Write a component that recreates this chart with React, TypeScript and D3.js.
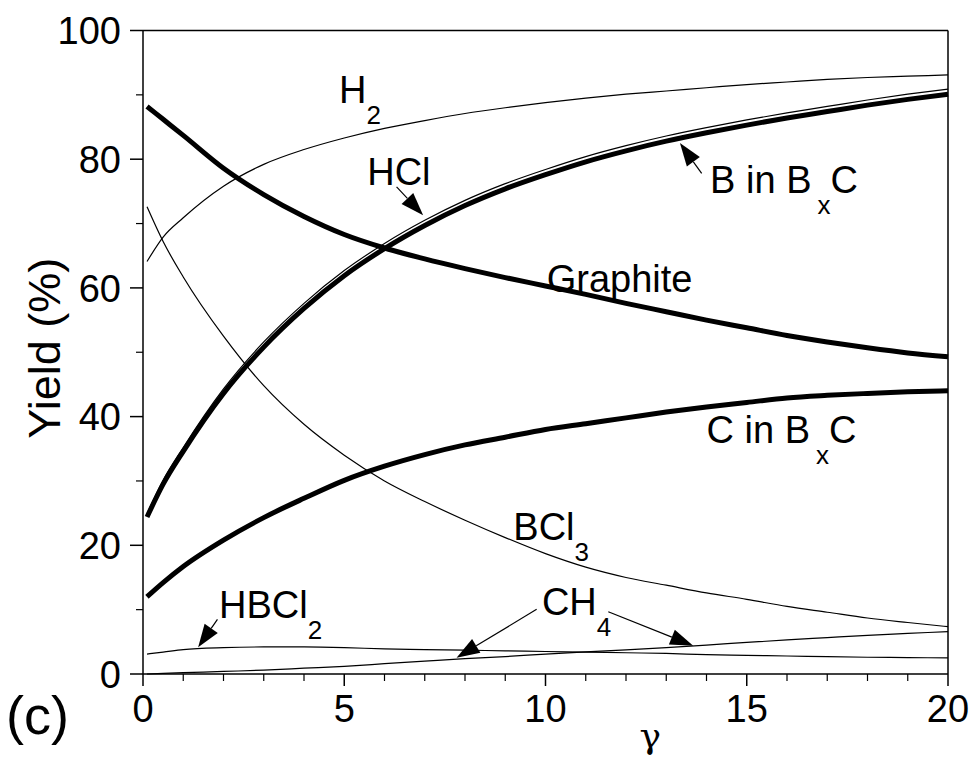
import * as d3 from "d3";

// gamma values (x axis)
const gamma = [0.1, 0.5, 1, 2, 3, 4, 5, 6, 7, 8, 9, 10, 11, 12, 13, 14, 15, 16, 17, 18, 19, 20];

// yields (%)
const graphite = [88.2, 86.2, 83.7, 78.6, 74.5, 71.1, 68.3, 66.2, 64.5, 63.0, 61.6, 60.3, 59.0, 57.6, 56.3, 55.0, 53.8, 52.6, 51.6, 50.7, 49.9, 49.3];
const h2 = [64.1, 67.9, 70.9, 75.8, 79.2, 81.5, 83.3, 84.8, 86.0, 87.1, 88.0, 88.8, 89.5, 90.1, 90.6, 91.1, 91.6, 92.0, 92.4, 92.7, 92.9, 93.1];
const bInBxC = [24.4, 29.5, 34.6, 43.6, 50.8, 56.8, 61.9, 66.1, 69.7, 72.8, 75.4, 77.6, 79.6, 81.3, 82.8, 84.1, 85.3, 86.4, 87.4, 88.4, 89.3, 90.1];
const hcl = [24.9, 30.1, 35.2, 44.3, 51.6, 57.6, 62.7, 66.9, 70.5, 73.6, 76.2, 78.4, 80.4, 82.1, 83.6, 84.9, 86.1, 87.2, 88.2, 89.2, 90.1, 90.9];
const cInBxC = [12.0, 14.2, 16.7, 20.8, 24.3, 27.3, 30.1, 32.3, 34.1, 35.6, 36.8, 38.0, 38.9, 39.8, 40.7, 41.5, 42.2, 42.9, 43.3, 43.6, 43.85, 44.0];
const bcl3 = [72.6, 67.2, 61.7, 52.5, 44.8, 38.8, 34.0, 30.0, 26.8, 23.9, 21.2, 18.7, 16.6, 15.0, 13.8, 12.6, 11.6, 10.5, 9.6, 8.7, 8.0, 7.35];
const hbcl2 = [3.1, 3.4, 3.8, 4.1, 4.2, 4.2, 4.1, 3.9, 3.8, 3.7, 3.6, 3.5, 3.4, 3.3, 3.2, 3.0, 2.9, 2.8, 2.7, 2.6, 2.55, 2.5];
const ch4 = [0.0, 0.1, 0.2, 0.4, 0.6, 0.9, 1.2, 1.6, 2.0, 2.4, 2.7, 3.1, 3.45, 3.75, 4.1, 4.5, 4.9, 5.3, 5.65, 6.0, 6.3, 6.6];

const xMajor = [0, 5, 10, 15, 20];
const yMajor = [0, 20, 40, 60, 80, 100];

const W = 976;
const H = 773;
const margin = { left: 143, right: 28, top: 30.5, bottom: 99 };
const FONT = "'Liberation Sans', Arial, sans-serif";

const x = d3.scaleLinear().domain([0, 20]).range([margin.left, W - margin.right]);
const y = d3.scaleLinear().domain([0, 100]).range([H - margin.bottom, margin.top]);

const line = d3
  .line<number>()
  .x((_, i) => x(gamma[i]))
  .y((d) => y(d))
  .curve(d3.curveMonotoneX);

const series = [
  { name: "H2", values: h2, w: 1.2 },
  { name: "BCl3", values: bcl3, w: 1.2 },
  { name: "HBCl2", values: hbcl2, w: 1.2 },
  { name: "CH4", values: ch4, w: 1.2 },
  { name: "Graphite", values: graphite, w: 5 },
  { name: "C in BxC", values: cInBxC, w: 5 },
  { name: "B in BxC", values: bInBxC, w: 5 },
  { name: "HCl", values: hcl, w: 1.2 },
];

// labels: [gamma, yield] of text start / baseline
type Label = { g: number; v: number; main: string; sub?: string; tail?: string; subDx?: number };
const labels: Label[] = [
  { g: 4.87, v: 88.7, main: "H", sub: "2" },
  { g: 5.57, v: 76.0, main: "HCl" },
  { g: 14.09, v: 74.7, main: "B in B", sub: "x", tail: "C", subDx: 6 },
  { g: 10.03, v: 59.4, main: "Graphite" },
  { g: 14.0, v: 35.85, main: "C in B", sub: "x", tail: "C", subDx: 6 },
  { g: 9.2, v: 20.8, main: "BCl", sub: "3" },
  { g: 9.91, v: 9.17, main: "CH", sub: "4" },
  { g: 1.89, v: 8.66, main: "HBCl", sub: "2" },
];

// arrows: from [g, v] to tip [g, v]
const arrows = [
  { from: [6.3, 75.7], to: [6.96, 71.3] },
  { from: [13.88, 77.8], to: [13.34, 82.5] },
  { from: [9.78, 10.05], to: [7.79, 2.53] },
  { from: [11.56, 9.68], to: [13.67, 4.4] },
  { from: [1.85, 8.5], to: [1.37, 4.15] },
];

function Arrow({ from, to }: { from: number[]; to: number[] }) {
  const x1 = x(from[0]);
  const y1 = y(from[1]);
  const x2 = x(to[0]);
  const y2 = y(to[1]);
  const ang = Math.atan2(y2 - y1, x2 - x1);
  const len = 23;
  const hw = 8;
  const bx = x2 - len * Math.cos(ang);
  const by = y2 - len * Math.sin(ang);
  const px = -Math.sin(ang) * hw;
  const py = Math.cos(ang) * hw;
  return (
    <g>
      <line x1={x1} y1={y1} x2={bx} y2={by} stroke="#000" strokeWidth={1.2} />
      <polygon points={`${x2},${y2} ${bx + px},${by + py} ${bx - px},${by - py}`} fill="#000" />
    </g>
  );
}

export default function App() {
  const x0 = x(0);
  const y0 = y(0);
  const minorX = d3.range(0, 21, 1).filter((d) => d % 5 !== 0);
  const minorY = d3.range(10, 100, 20);
  return (
    <svg width={W} height={H} style={{ position: "absolute", left: 0, top: 0, background: "#fff" }} fontFamily={FONT}>
      <rect width={W} height={H} fill="#fff" />
      {/* frame */}
      <line x1={x(0)} y1={y(100)} x2={x(20)} y2={y(100)} stroke="#000" strokeWidth={1.5} />
      <line x1={x(20)} y1={y(100)} x2={x(20)} y2={y0} stroke="#000" strokeWidth={1.5} />
      <line x1={x0} y1={y(100)} x2={x0} y2={y0} stroke="#000" strokeWidth={1.5} />
      <line x1={x0} y1={y0} x2={x(20)} y2={y0} stroke="#000" strokeWidth={1.5} />
      {/* x ticks */}
      {xMajor.map((t) => (
        <g key={"xm" + t}>
          <line x1={x(t)} x2={x(t)} y1={y0} y2={y0 + 12} stroke="#000" strokeWidth={1.5} />
          <text x={x(t)} y={y0 + 48} fontSize={38} textAnchor="middle">{t}</text>
        </g>
      ))}
      {minorX.map((t) => (
        <line key={"xn" + t} x1={x(t)} x2={x(t)} y1={y0} y2={y0 + 7} stroke="#000" strokeWidth={1.2} />
      ))}
      {/* y ticks */}
      {yMajor.map((t) => (
        <g key={"ym" + t}>
          <line x1={x0 - 13} x2={x0} y1={y(t)} y2={y(t)} stroke="#000" strokeWidth={1.5} />
          <text x={x0 - 22} y={y(t)} dy="0.36em" fontSize={38} textAnchor="end">{t}</text>
        </g>
      ))}
      {minorY.map((t) => (
        <line key={"yn" + t} x1={x0 - 7} x2={x0} y1={y(t)} y2={y(t)} stroke="#000" strokeWidth={1.2} />
      ))}
      {/* curves */}
      {series.map((s) => (
        <path key={s.name} d={line(s.values) ?? ""} fill="none" stroke="#000" strokeWidth={s.w} strokeLinejoin="round" />
      ))}
      {/* arrows */}
      {arrows.map((a, i) => (
        <Arrow key={i} from={a.from} to={a.to} />
      ))}
      {/* labels */}
      {labels.map((l, i) => (
        <text key={i} x={x(l.g)} y={y(l.v)} fontSize={38}>
          {l.main}
          {l.sub && (
            <tspan fontSize={26} dx={l.subDx ?? 0} dy={21}>
              {l.sub}
            </tspan>
          )}
          {l.tail && <tspan dy={-21}>{l.tail}</tspan>}
        </text>
      ))}
      {/* axis titles */}
      <text transform={`translate(60,${(y(0) + y(100)) / 2 - 4}) rotate(-90)`} textAnchor="middle" fontSize={45}>
        Yield (%)
      </text>
      <text x={x(12.6)} y={748} textAnchor="middle" fontSize={36} fontFamily="'DejaVu Serif', serif">
        γ
      </text>
      <text x={6} y={734} fontSize={54}>
        (c)
      </text>
    </svg>
  );
}
